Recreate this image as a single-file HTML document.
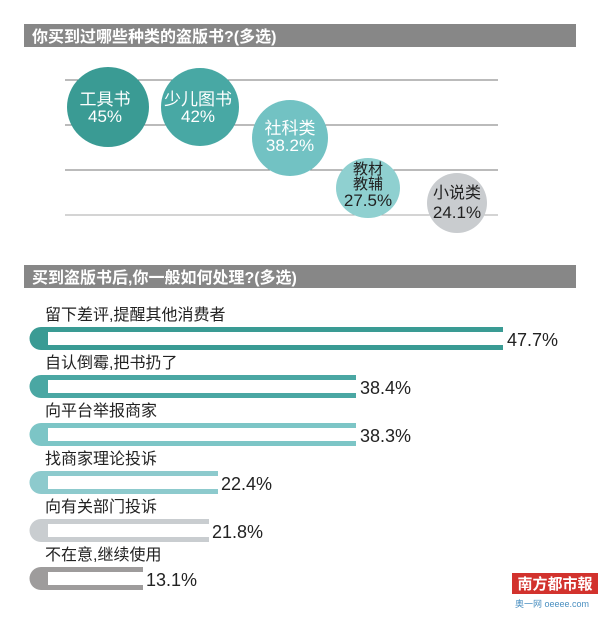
<!DOCTYPE html><html><head><meta charset="utf-8"><style>
body{margin:0;background:#fff;width:600px;height:612px;overflow:hidden;font-family:"Liberation Sans","Noto Sans CJK SC",sans-serif}
</style></head><body>
<svg width="600" height="612" xmlns="http://www.w3.org/2000/svg" font-family="Liberation Sans, Noto Sans CJK SC, sans-serif">
<rect x="24" y="24" width="552" height="23" fill="#878787"/>
<text x="32" y="42" font-size="16" font-weight="bold" fill="#fff">你买到过哪些种类的盗版书?(多选)</text>
<g stroke="#777" stroke-width="1">
<line x1="65" y1="80" x2="498" y2="80"/><line x1="65" y1="125" x2="498" y2="125"/>
<line x1="65" y1="170" x2="498" y2="170"/><line x1="65" y1="215" x2="498" y2="215" stroke="#aaa"/></g>
<ellipse cx="108" cy="107" rx="41" ry="40" fill="#3a9b94"/>
<ellipse cx="200" cy="107" rx="39" ry="39" fill="#48a8a4"/>
<ellipse cx="290" cy="138" rx="38" ry="38" fill="#72c2c3"/>
<ellipse cx="368" cy="188" rx="32" ry="30" fill="#8fd0d0"/>
<ellipse cx="457" cy="203" rx="30" ry="30" fill="#c9cccf"/>
<g stroke="#777" stroke-width="1"><line x1="400" y1="170" x2="498" y2="170"/></g>
<g font-size="17" text-anchor="middle" fill="#fff">
<text x="105" y="105">工具书</text><text x="105" y="122">45%</text>
<text x="198" y="105">少儿图书</text><text x="198" y="122">42%</text>
<text x="290" y="134">社科类</text><text x="290" y="151">38.2%</text>
</g>
<g font-size="15" text-anchor="middle" fill="#222">
<text x="368" y="174">教材</text><text x="368" y="189">教辅</text><text font-size="17" x="368" y="206">27.5%</text>
<text font-size="16" x="457" y="198">小说类</text><text font-size="17" x="457" y="218">24.1%</text>
</g>
<rect x="24" y="265" width="552" height="23" fill="#878787"/>
<text x="32" y="283" font-size="16" font-weight="bold" fill="#fff">买到盗版书后,你一般如何处理?(多选)</text>
<g font-size="16" fill="#222">
<text x="45" y="320">留下差评,提醒其他消费者</text>
<text x="45" y="368">自认倒霉,把书扔了</text>
<text x="45" y="416">向平台举报商家</text>
<text x="45" y="464">找商家理论投诉</text>
<text x="45" y="512">向有关部门投诉</text>
<text x="45" y="560">不在意,继续使用</text>
</g>
<g>
<path d="M41 327H503V350H41A11.5 11.5 0 0 1 41 327Z" fill="#3a9b94"/><rect x="48" y="332" width="455" height="13" fill="#fff"/>
<path d="M41 375H356V398H41A11.5 11.5 0 0 1 41 375Z" fill="#4aa7a3"/><rect x="48" y="380" width="308" height="13" fill="#fff"/>
<path d="M41 423H356V446H41A11.5 11.5 0 0 1 41 423Z" fill="#7cc5c6"/><rect x="48" y="428" width="308" height="13" fill="#fff"/>
<path d="M41 471H218V494H41A11.5 11.5 0 0 1 41 471Z" fill="#8dcacd"/><rect x="48" y="476" width="170" height="13" fill="#fff"/>
<path d="M41 519H209V542H41A11.5 11.5 0 0 1 41 519Z" fill="#c9cdd0"/><rect x="48" y="524" width="161" height="13" fill="#fff"/>
<path d="M41 567H143V590H41A11.5 11.5 0 0 1 41 567Z" fill="#9e9c9c"/><rect x="48" y="572" width="95" height="13" fill="#fff"/>
</g>
<g font-size="18" fill="#222">
<text x="507" y="346">47.7%</text><text x="360" y="394">38.4%</text><text x="360" y="442">38.3%</text>
<text x="221" y="490">22.4%</text><text x="212" y="538">21.8%</text><text x="146" y="586">13.1%</text>
</g>
<rect x="512" y="573" width="86" height="21" fill="#d2322d"/>
<text x="555" y="589" font-size="15" font-weight="bold" fill="#fff" text-anchor="middle">南方都市報</text>
<text x="515" y="607" font-size="9" fill="#4a8fc0">奥一网 oeeee.com</text>
</svg>
</body></html>
